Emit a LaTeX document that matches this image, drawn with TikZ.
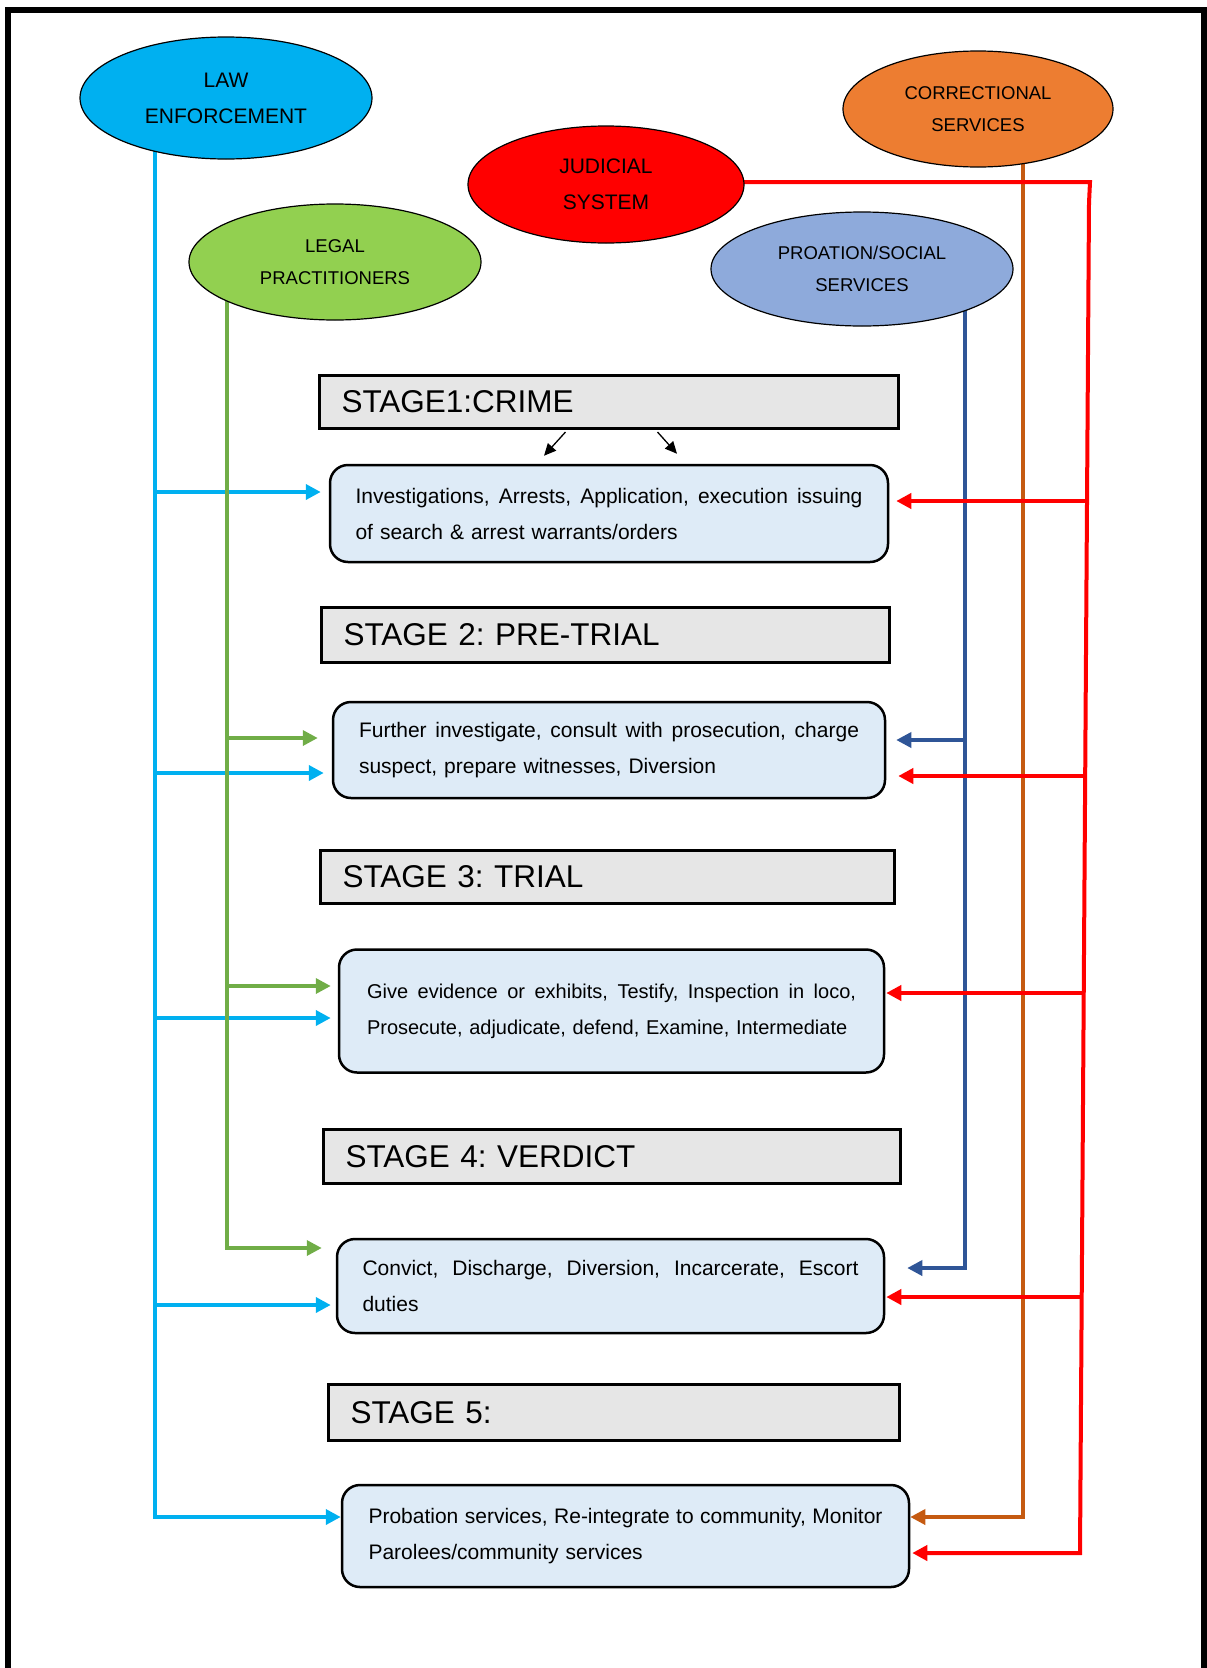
\documentclass[tikz,border=0pt]{standalone}
\usepackage{fontspec}
\setmainfont{Liberation Sans}
\usetikzlibrary{arrows.meta,shapes.geometric,backgrounds}

\definecolor{lawcyan}{HTML}{00B0F0}
\definecolor{legalgreen}{HTML}{92D050}
\definecolor{legalline}{HTML}{70AD47}
\definecolor{courtred}{HTML}{FF0000}
\definecolor{corrorange}{HTML}{ED7D31}
\definecolor{corrline}{HTML}{C55A11}
\definecolor{probfill}{HTML}{8EAADB}
\definecolor{probline}{HTML}{2F5597}
\definecolor{stagegray}{HTML}{E6E6E6}
\definecolor{taskfill}{HTML}{DEEBF7}

% first line of a task box, spread to the full width (words joined by \hfill)
\newcommand{\spreadline}[2]{\hbox to #1{#2}}

\begin{document}
\frenchspacing
\begin{tikzpicture}[x=1pt,y=-1pt,
  agency/.style={ellipse, draw=black, line width=1.2pt, inner sep=0pt, align=center},
  bigagency/.style={agency, font=\fontsize{21}{36}\selectfont},
  smallagency/.style={agency, font=\fontsize{18.5}{32}\selectfont},
  stagehead/.style={rectangle, draw=black, line width=3pt, fill=stagegray,
     inner xsep=22pt, inner ysep=0pt, anchor=north west, align=left,
     font=\fontsize{31.5}{36}\selectfont},
  taskbox/.style={rectangle, rounded corners=18pt, draw=black, line width=2.5pt,
     fill=taskfill, inner sep=0pt, align=left, font=\fontsize{21}{36}\selectfont},
  bus/.style={line width=4pt},
  feed/.style={line width=4pt, -{Triangle[length=15pt,width=15pt]}},
  pointer/.style={line width=1.3pt, -{Triangle[length=12pt,width=11pt]}}
]
\useasboundingbox (0,0) rectangle (1207,1668);

% page frame, open at the bottom
\draw[line width=6pt] (7.5,1668) -- (7.5,10) -- (1204,10) -- (1204,1668);

% agencies
\node[bigagency, fill=lawcyan, minimum width=292pt, minimum height=122pt] (law) at (226,98) {LAW\\ENFORCEMENT};
\node[smallagency, fill=legalgreen, minimum width=292pt, minimum height=116pt] (legal) at (335,262) {LEGAL\\PRACTITIONERS};
\node[bigagency, fill=courtred, minimum width=276pt, minimum height=117pt] (judicial) at (606,184.5) {JUDICIAL\\SYSTEM};
\node[smallagency, fill=corrorange, minimum width=270pt, minimum height=116pt] (correctional) at (978,109) {CORRECTIONAL\\SERVICES};
\node[smallagency, fill=probfill, minimum width=302pt, minimum height=114pt] (probation) at (862,269) {PROATION/SOCIAL\\SERVICES};

% stage headings
\node[stagehead, minimum height=53pt, text width=535pt] (h1) at (318,374) {STAGE1:CRIME};
\node[stagehead, minimum height=55pt, text width=524pt] (h2) at (320,606) {STAGE 2: PRE-TRIAL};
\node[stagehead, minimum height=53pt, text width=530pt] (h3) at (319,849) {STAGE 3: TRIAL};
\node[stagehead, minimum height=54pt, text width=533pt] (h4) at (322,1128) {STAGE 4: VERDICT};
\node[stagehead, minimum height=56pt, text width=527pt] (h5) at (327,1383) {STAGE 5:};

% tasks of each stage
\node[taskbox, minimum width=558pt, minimum height=97pt, text width=507pt] (t1) at (609,513.5)
  {\spreadline{507pt}{Investigations,\hfill Arrests,\hfill Application,\hfill execution\hfill issuing}\\of search \& arrest warrants/orders};
\node[taskbox, minimum width=552pt, minimum height=96pt, text width=500pt] (t2) at (609,750)
  {\spreadline{500pt}{Further\hfill investigate,\hfill consult\hfill with\hfill prosecution,\hfill charge}\\suspect, prepare witnesses, Diversion};
\node[taskbox, minimum width=545pt, minimum height=123pt, text width=489pt, font=\fontsize{20}{36}\selectfont] (t3) at (611.5,1011)
  {\spreadline{489pt}{Give\hfill evidence\hfill or\hfill exhibits,\hfill Testify,\hfill Inspection\hfill in\hfill loco,}\\Prosecute, adjudicate, defend, Examine, Intermediate};
\node[taskbox, minimum width=547pt, minimum height=94pt, text width=496pt] (t4) at (610.5,1286)
  {\spreadline{496pt}{Convict,\hfill Discharge,\hfill Diversion,\hfill Incarcerate,\hfill Escort}\\duties};
\node[taskbox, minimum width=567pt, minimum height=102pt, text width=514pt] (t5) at (625.5,1536)
  {\spreadline{514pt}{Probation\hfill services,\hfill Re-integrate\hfill to\hfill community,\hfill Monitor}\\Parolees/community services};

% crime leads into the first stage
\draw[pointer] ([shift={(-43.5,2)}]h1.south) -- ([shift={(-65,-8)}]t1.north);
\draw[pointer] ([shift={(48.5,2)}]h1.south) -- ([shift={(68,-10)}]t1.north);

% vertical feed lines of the agencies
\coordinate (cyanbus) at (155,0);
\coordinate (greenbus) at (227,0);
\coordinate (bluebus) at (965,0);
\coordinate (orangebus) at (1023,0);
\coordinate (redtop) at (1090,182);
\coordinate (redbend) at (1089,203);
\coordinate (redfoot) at (1080,1553);
\coordinate (rb1) at (1087,501);
\coordinate (rb2) at (1085,776);
\coordinate (rb3) at (1083.5,993);
\coordinate (rb4) at (1081.5,1297);

\begin{scope}[on background layer]
  % law enforcement
  \draw[feed, lawcyan] (law.center -| cyanbus) |- (t5.west |- 0,1517);
  \draw[feed, lawcyan, shorten >=8pt] (cyanbus |- 0,492) -- (t1.west |- 0,492);
  \draw[feed, lawcyan, shorten >=8pt] (cyanbus |- 0,773) -- (t2.west |- 0,773);
  \draw[feed, lawcyan, shorten >=7pt] (cyanbus |- 0,1018) -- (t3.west |- 0,1018);
  \draw[feed, lawcyan, shorten >=5pt] (cyanbus |- 0,1305) -- (t4.west |- 0,1305);
  % legal practitioners
  \draw[feed, legalline, line width=3.5pt, shorten >=14pt] (legal.center -| greenbus) |- (t4.west |- 0,1248);
  \draw[feed, legalline, line width=3.5pt, shorten >=14pt] (greenbus |- 0,738) -- (t2.west |- 0,738);
  \draw[feed, legalline, line width=3.5pt, shorten >=7pt] (greenbus |- 0,986) -- (t3.west |- 0,986);
  % probation / social services
  \draw[feed, probline, line width=3.5pt, shorten >=22pt] (probation.center -| bluebus) |- (t4.east |- 0,1268);
  \draw[feed, probline, line width=3.5pt, shorten >=10pt] (bluebus |- 0,740) -- (t2.east |- 0,740);
  % correctional services
  \draw[feed, corrline, line width=3.5pt] (correctional.center -| orangebus) |- (t5.east |- 0,1517);
  % judicial system
  \draw[feed, courtred, shorten >=2pt] (judicial.center |- redtop) -- (redtop) -- (redbend) -- (redfoot) -- (t5.east |- redfoot);
  \draw[feed, courtred, shorten >=7pt] (rb1) -- (t1.east |- rb1);
  \draw[feed, courtred, shorten >=12pt] (rb2) -- (t2.east |- rb2);
  \draw[feed, courtred, shorten >=1pt] (rb3) -- (t3.east |- rb3);
  \draw[feed, courtred, shorten >=1pt] (rb4) -- (t4.east |- rb4);
\end{scope}
\end{tikzpicture}
\end{document}
